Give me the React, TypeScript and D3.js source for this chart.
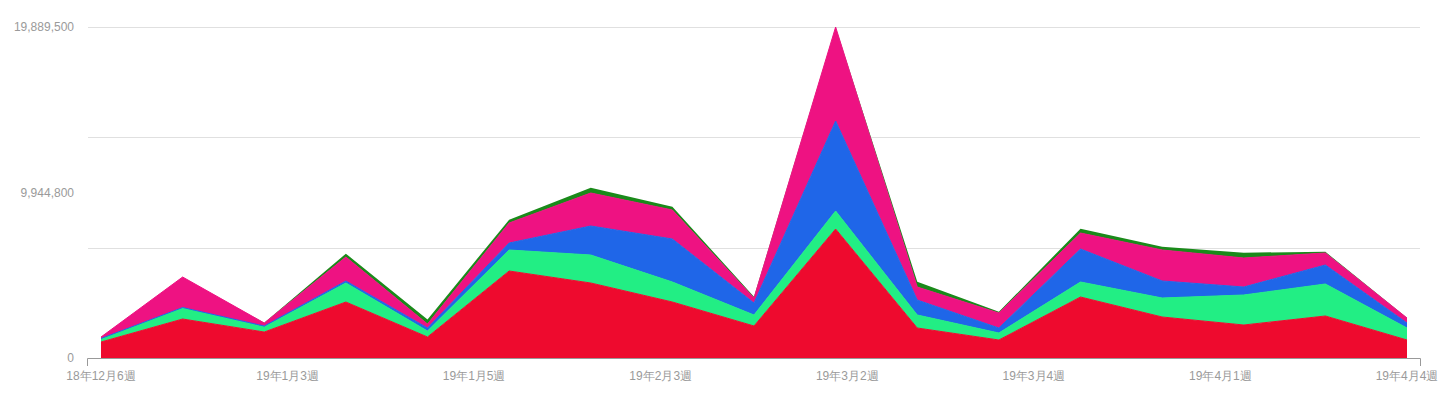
import React, { useEffect, useRef } from 'react';
import * as d3 from 'd3';

// 17 weekly points, 5 stacked series (bottom to top)
const redSeries = [961000, 2343000, 1562000, 3365000, 1262000, 5228000, 4507000, 3365000, 1923000, 7751000, 1803000, 1082000, 3665000, 2464000, 1983000, 2524000, 1082000];
const mintSeries = [180000, 661000, 300000, 1142000, 361000, 1262000, 1682000, 1202000, 661000, 1082000, 781000, 421000, 901000, 1142000, 1803000, 1923000, 721000];
const blueSeries = [30000, 30000, 60000, 120000, 180000, 421000, 1743000, 2584000, 721000, 5408000, 901000, 300000, 1983000, 1022000, 481000, 1142000, 300000];
const pinkSeries = [90000, 1833000, 180000, 1442000, 240000, 1202000, 1983000, 1743000, 300000, 5648000, 781000, 901000, 961000, 1863000, 1743000, 721000, 300000];
const darkGreenSeries = [0, 0, 10000, 200000, 270000, 200000, 320000, 200000, 70000, 0, 320000, 70000, 260000, 200000, 320000, 70000, 20000];

const xLabels = ['18年12月6週', '19年1月3週', '19年1月5週', '19年2月3週', '19年3月2週', '19年3月4週', '19年4月1週', '19年4月4週'];
const yMax = 19889500;
const yLabelValues = [0, 9944800, 19889500];
const gridValues = [yMax / 3, (yMax * 2) / 3, yMax];

const keys = ['red', 'mint', 'blue', 'pink', 'darkGreen'];
const colors = ['#ee0a2e', '#22ee84', '#1f66e8', '#ee1282', '#1a8a1a'];

const App = () => {
  const svgRef = useRef<SVGSVGElement>(null);

  useEffect(() => {
    const svg = d3.select(svgRef.current);
    svg.selectAll('*').remove();

    const n = redSeries.length;
    const rows = d3.range(n).map(i => ({
      red: redSeries[i],
      mint: mintSeries[i],
      blue: blueSeries[i],
      pink: pinkSeries[i],
      darkGreen: darkGreenSeries[i],
    }));
    const stacked = d3.stack<any>().keys(keys)(rows);

    const x = d3.scaleLinear().domain([0, n - 1]).range([101, 1407]);
    const y = d3.scaleLinear().domain([0, yMax]).range([358, 27]);

    // gridlines
    svg.append('g')
      .selectAll('line')
      .data(gridValues)
      .join('line')
        .attr('x1', 88)
        .attr('x2', 1420)
        .attr('y1', d => Math.round(y(d)) + 0.5)
        .attr('y2', d => Math.round(y(d)) + 0.5)
        .attr('stroke', '#e0e0e0')
        .attr('stroke-width', 1);

    const area = d3.area<any>()
      .x((d, i) => x(i))
      .y0(d => y(d[0]))
      .y1(d => y(d[1]));

    const line = d3.line<any>()
      .x((d, i) => x(i))
      .y(d => y(d[1]));

    svg.append('g')
      .selectAll('path')
      .data(stacked)
      .join('path')
        .attr('fill', (d, i) => colors[i])
        .attr('d', area);

    // thin seams on top of the lower series only
    svg.append('g')
      .selectAll('path')
      .data(stacked.slice(0, 4))
      .join('path')
        .attr('fill', 'none')
        .attr('stroke', (d, i) => colors[i])
        .attr('stroke-width', 1)
        .attr('d', line);

    // baseline axis with end ticks
    svg.append('path')
      .attr('d', 'M87.5,366V358.5H1420.5V366')
      .attr('fill', 'none')
      .attr('stroke', '#999')
      .attr('stroke-width', 1);

    // x labels, spread evenly along the data range
    const labelScale = d3.scaleLinear().domain([0, xLabels.length - 1]).range([0, n - 1]);
    svg.append('g')
      .selectAll('text')
      .data(xLabels)
      .join('text')
        .attr('x', (d, i) => x(labelScale(i)))
        .attr('y', 380)
        .attr('text-anchor', 'middle')
        .attr('fill', '#9a9a9a')
        .attr('font-family', 'Liberation Sans, Arial, sans-serif')
        .attr('font-size', 12)
        .text(d => d);

    svg.append('g')
      .selectAll('text')
      .data(yLabelValues)
      .join('text')
        .attr('x', 74)
        .attr('y', d => y(d))
        .attr('dy', '0.35em')
        .attr('text-anchor', 'end')
        .attr('fill', '#9a9a9a')
        .attr('font-family', 'Liberation Sans, Arial, sans-serif')
        .attr('font-size', 12)
        .text(d => d3.format(',')(d));
  }, []);

  return (
    <svg
      ref={svgRef}
      width={1440}
      height={398}
      style={{ position: 'absolute', left: 0, top: 0, background: '#fff' }}
    ></svg>
  );
};

export default App;
